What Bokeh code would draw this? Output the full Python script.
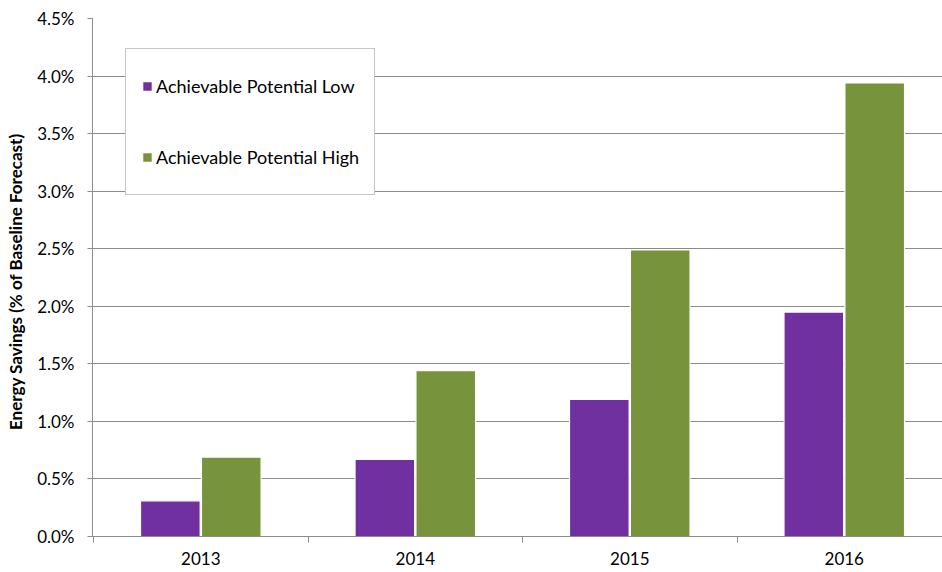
from bokeh.plotting import figure
from bokeh.models import Range1d, FixedTicker, PrintfTickFormatter, Legend, LegendItem
from bokeh.embed import file_html
from bokeh.resources import INLINE

years = ["2013", "2014", "2015", "2016"]
low = [0.31, 0.67, 1.19, 1.95]
high = [0.69, 1.44, 2.49, 3.94]
series_names = ["Achievable Potential Low", "Achievable Potential High"]
colors = ["#7030A0", "#77933C"]
y_ticks = [0.0, 0.5, 1.0, 1.5, 2.0, 2.5, 3.0, 3.5, 4.0, 4.5]

FONT = "Lato"
GRID = "#8c8c8c"

p = figure(width=942, height=572, output_backend="svg", toolbar_location=None,
           x_range=Range1d(-0.005, 3.958), y_range=Range1d(0, 4.5),
           min_border_left=92, min_border_top=18, min_border_bottom=36, min_border_right=0)
p.outline_line_color = None
p.background_fill_color = "white"

centers = [i + 0.5 for i in range(len(years))]
bw = 0.278
off = 0.142
r_low = p.vbar(x=[c - off for c in centers], top=low, width=bw, bottom=0,
               fill_color=colors[0], line_color="white", line_width=1.2)
r_high = p.vbar(x=[c + off for c in centers], top=high, width=bw, bottom=0,
                fill_color=colors[1], line_color="white", line_width=1.2)

# x axis
p.xaxis.ticker = FixedTicker(ticks=centers, minor_ticks=list(range(len(years) + 1)))
p.xaxis.major_label_overrides = {c: y for c, y in zip(centers, years)}
p.xaxis.major_tick_out = 0
p.xaxis.major_tick_in = 0
p.xaxis.minor_tick_out = 6
p.xaxis.minor_tick_in = 0
p.xaxis.minor_tick_line_color = GRID
p.xaxis.axis_line_color = GRID
p.xaxis.major_label_text_font = FONT
p.xaxis.major_label_text_font_size = "17px"
p.xaxis.major_label_text_color = "#000000"
p.xaxis.major_label_standoff = 9
p.xgrid.visible = False

# y axis
p.yaxis.ticker = FixedTicker(ticks=y_ticks)
p.yaxis.formatter = PrintfTickFormatter(format="%.1f%%")
p.yaxis.axis_line_color = GRID
p.yaxis.major_tick_line_color = GRID
p.yaxis.major_tick_out = 5
p.yaxis.major_tick_in = 0
p.yaxis.minor_tick_line_color = None
p.yaxis.major_label_text_font = FONT
p.yaxis.major_label_text_font_size = "17px"
p.yaxis.major_label_text_color = "#000000"
p.yaxis.major_label_standoff = 13
p.yaxis.axis_label = "Energy Savings  (% of Baseline  Forecast)"
p.yaxis.axis_label_text_font = FONT
p.yaxis.axis_label_text_font_size = "17px"
p.yaxis.axis_label_text_font_style = "bold"
p.yaxis.axis_label_text_color = "#000000"
p.yaxis.axis_label_standoff = 8
p.ygrid.grid_line_color = GRID
p.ygrid.grid_line_width = 1

legend = Legend(items=[LegendItem(label=series_names[0], renderers=[r_low]),
                       LegendItem(label=series_names[1], renderers=[r_high])],
                location=(33, 341), orientation="vertical")
legend.border_line_color = GRID
legend.border_line_width = 1
legend.background_fill_color = "white"
legend.background_fill_alpha = 1.0
legend.padding = 15
legend.spacing = 27
legend.label_height = 44
legend.label_width = 198
legend.glyph_width = 12
legend.glyph_height = 12
legend.label_standoff = 3
legend.margin = 0
legend.label_text_font = FONT
legend.label_text_font_size = "18px"
legend.label_text_color = "#000000"
p.add_layout(legend)

open("out.html", "w").write(file_html(p, INLINE))
